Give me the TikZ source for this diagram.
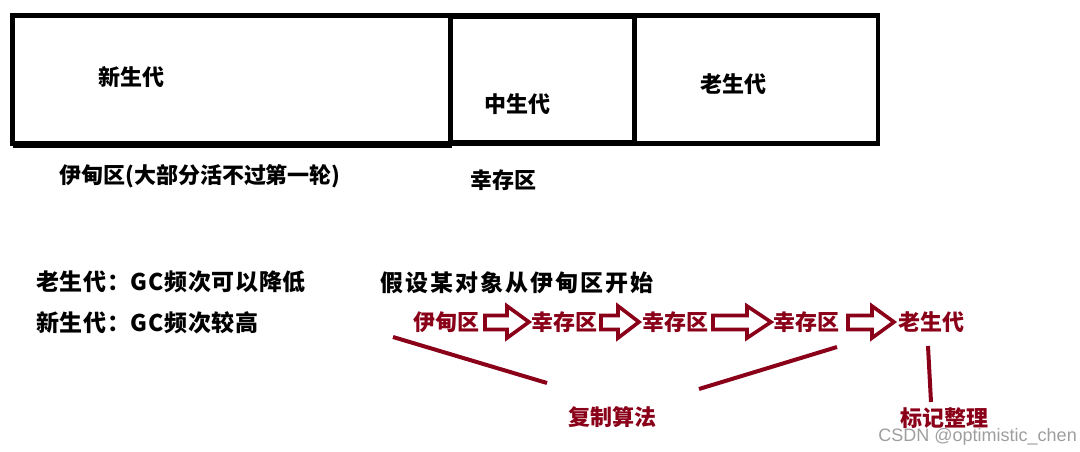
\documentclass[tikz,border=0pt]{standalone}
\usepackage{fontspec}
\newfontfamily\cjk{Noto Sans CJK SC}
\newfontfamily\wmfont{Liberation Sans}
\definecolor{dred}{RGB}{138,0,24}
\begin{document}
\begin{tikzpicture}[x=1pt,y=-1pt,
  box/.style={draw=black,line width=4.5pt},
  blk/.style={font=\cjk\bfseries\fontsize{22}{26}\selectfont,text=black,inner sep=0pt},
  note/.style={font=\cjk\bfseries\fontsize{23}{27}\selectfont,text=black,inner sep=0pt,anchor=west},
  red/.style={font=\cjk\bfseries\fontsize{22}{26}\selectfont,text=dred,inner sep=0pt},
  redline/.style={draw=dred,line width=4pt},
  blockarrow/.style={draw=dred,line width=3.6pt,line join=miter,fill=white}
]
\useasboundingbox (0,0) rectangle (1080,451);
% memory areas
\draw[box] (12.5,15.5) rectangle (878,143.5);
\draw[black,line width=6pt] (12.5,144.5) -- (452,144.5);
\draw[box,line width=5pt] (450.5,16) rectangle (634.5,142.5);
\node[blk] (young) at (131,77) {新生代};
\node[blk] (mid) at (517,104) {中生代};
\node[blk] (old) at (733,84) {老生代};
\node[blk,anchor=west] (eden) at (59,176) {伊甸区(大部分活不过第一轮)};
\node[blk] (surv) at (503,180) {幸存区};
% notes
\node[note] (n1) at (36,282) {\addfontfeature{LetterSpace=3}老生代：GC频次可以降低};
\node[note] (n2) at (36,323) {\addfontfeature{LetterSpace=3}新生代：GC频次较高};
\node[note] (n3) at (380,283) {\addfontfeature{LetterSpace=9}假设某对象从伊甸区开始};
% path of an object
\node[red] (e0) at (446,322) {伊甸区};
\node[red] (e1) at (564,322) {幸存区};
\node[red] (e2) at (675,322) {幸存区};
\node[red] (e3) at (806,322) {幸存区};
\node[red] (e4) at (931,322) {老生代};
\draw[blockarrow] (485,315.5) -- (507,315.5) -- (507,306) -- (529,322) -- (507,338) -- (507,329.5) -- (485,329.5) -- cycle;
\draw[blockarrow] (601,315.5) -- (618,315.5) -- (618,306) -- (639,322) -- (618,338) -- (618,329.5) -- (601,329.5) -- cycle;
\draw[blockarrow] (713,315.5) -- (747,315.5) -- (747,306) -- (771,322) -- (747,338) -- (747,329.5) -- (713,329.5) -- cycle;
\draw[blockarrow] (848,315.5) -- (872,315.5) -- (872,306) -- (894,322) -- (872,338) -- (872,329.5) -- (848,329.5) -- cycle;
% algorithm labels
\node[red] (copy) at (612,417) {复制算法};
\node[red] (mark) at (944,418) {标记整理};
\coordinate (a1) at (393,337);
\coordinate (a2) at (547,383);
\coordinate (b1) at (837,347);
\coordinate (b2) at (699,389);
\coordinate (c1) at (928,346);
\coordinate (c2) at (931,402);
\draw[redline] (a1) -- (a2);
\draw[redline] (b1) -- (b2);
\draw[redline] (c1) -- (c2);
% watermark
\node[font=\wmfont\fontsize{18}{21}\selectfont,text=black!38,inner sep=0pt,anchor=east] (wm) at (1077,437) {CSDN @optimistic\_chen};
\end{tikzpicture}
\end{document}
